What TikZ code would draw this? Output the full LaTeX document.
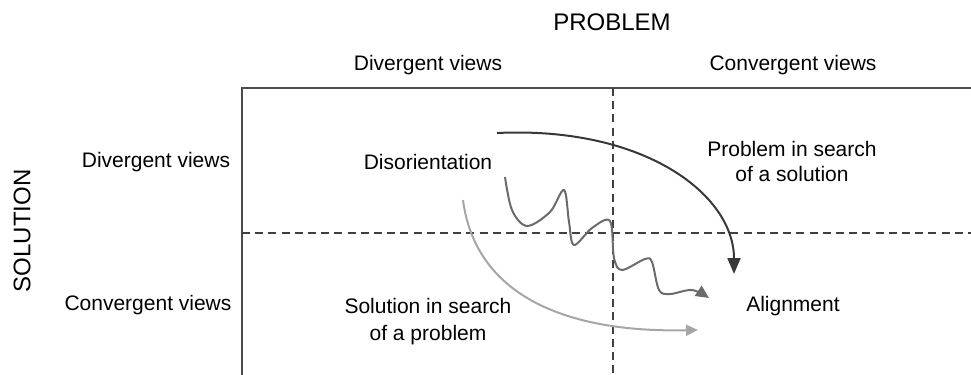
\documentclass[tikz,border=0pt]{standalone}
\usepackage{fontspec}
\setmainfont{Liberation Sans}
\usetikzlibrary{arrows.meta}

\begin{document}
\begin{tikzpicture}[x=0.5pt, y=-0.5pt,
    font=\fontsize{10.5}{12.5}\selectfont,
    frame/.style={draw=black!70, line width=1.1pt},
    split/.style={draw=black!75, line width=1pt, dash pattern=on 4pt off 2.6pt},
    head/.style={font=\fontsize{12}{14}\selectfont},
    label/.style={align=center},
    flow/.style={line width=1pt}]
    \useasboundingbox (0,0) rectangle (971,375);

    % Frame and quadrants
    \draw[frame] (971,88) -- (242,88) -- (242,375);
    \draw[split] (613,88) -- (613,375);
    \draw[split] (242,233) -- (971,233);

    % Headings
    \node[head] (probhead) at (612,22) {PROBLEM};
    \node[head, rotate=90] (solhead) at (22,231) {SOLUTION};
    \node (colDiv) at (428,65) {Divergent views};
    \node (colConv) at (793,65) {Convergent views};
    \node (rowDiv) at (156,162) {Divergent views};
    \node (rowConv) at (148,305) {Convergent views};

    % Quadrant labels
    \node[label] (disor) at (428,162) {Disorientation};
    \node[label] (probsearch) at (792,161) {Problem in search\\of a solution};
    \node[label, font=\fontsize{10.5}{13.5}\selectfont] (solsearch) at (428,322) {Solution in search\\of a problem};
    \node[label] (align) at (793,306) {Alignment};

    % Paths towards alignment
    \coordinate (darkS) at (497,133);
    \coordinate (darkE) at (734,274);
    \coordinate (lightS) at (463,200);
    \coordinate (lightE) at (698,330);
    \coordinate (waveS) at (505,177);
    \coordinate (waveE) at (709,298);

    \draw[flow, black!78, -{Triangle[length=8pt, width=6.5pt]}]
        (darkS) .. controls (645,126) and (734,195) .. (darkE);
    \draw[flow, black!35, -{Triangle[length=6pt, width=5.5pt]}]
        (lightS) .. controls (475,292) and (560,333) .. (lightE);
    \draw[flow, black!58, -{Triangle[length=6.5pt, width=6pt]}]
        plot[smooth, tension=0.55] coordinates {(waveS) (512,210) (527,226) (550,212) (564,190)
        (569,222) (574,245) (592,228) (610,221) (614,258) (622,270) (645,259) (652,262)
        (659,290) (670,294) (692,290) (waveE)};
\end{tikzpicture}
\end{document}
